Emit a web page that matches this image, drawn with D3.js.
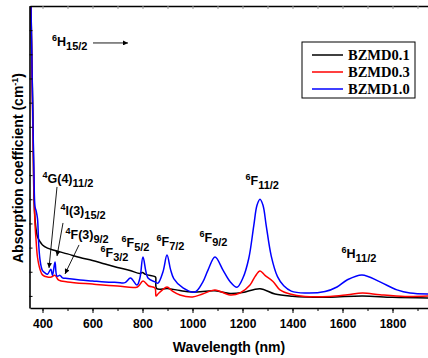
<!DOCTYPE html>
<html>
<head>
<meta charset="utf-8">
<script src="https://cdn.jsdelivr.net/npm/d3@7"></script>
<style>
  body { margin: 0; background: #fff; }
  svg { display: block; }
  .tickText { font-family: "Liberation Sans", Arial, sans-serif; font-weight: bold; font-size: 12px; }
</style>
</head>
<body>
<div id="chart"></div>
<script>
"use-strict";

// wavelength (nm) and absorption values
const blackWl  = [350, 354, 358, 362, 366, 370, 375, 380, 390, 400, 420, 450, 500, 550, 600, 650, 700, 750, 790, 800, 812, 850, 853, 857, 900, 950, 1000, 1090, 1150, 1200, 1270, 1330, 1400, 1450, 1550, 1680, 1800, 1950];
const blackAbs = [14.5, 12.0, 9.5, 7.3, 4.0, 3.2, 2.7, 2.45, 2.25, 2.11, 1.98, 1.88, 1.74, 1.59, 1.47, 1.32, 1.18, 1.05, 0.93, 0.97, 0.89, 0.8, 0.76, 0.3, 0.31, 0.22, 0.16, 0.21, 0.1, 0.14, 0.3, 0.08, -0.01, -0.04, -0.05, 0.0, -0.06, -0.09];

const redWl  = [350, 354, 358, 362, 366, 370, 375, 380, 390, 400, 420, 435, 450, 465, 500, 600, 700, 780, 802, 825, 850, 854, 862, 880, 898, 920, 950, 1000, 1040, 1090, 1150, 1190, 1230, 1250, 1270, 1290, 1322, 1350, 1390, 1450, 1550, 1620, 1680, 1750, 1850, 1950];
const redAbs = [14.5, 12.0, 9.0, 6.5, 4.3, 3.0, 2.2, 1.6, 1.1, 0.87, 0.78, 0.78, 0.85, 0.65, 0.58, 0.49, 0.41, 0.37, 0.62, 0.41, 0.33, 0.0, 0.08, 0.25, 0.37, 0.2, 0.04, -0.04, 0.08, 0.25, 0.04, 0.12, 0.45, 0.8, 1.03, 0.85, 0.6, 0.25, 0.08, -0.02, -0.02, 0.05, 0.12, 0.05, -0.02, 0.0];

const blueWl  = [350, 354, 358, 362, 366, 370, 375, 380, 385, 390, 395, 400, 410, 420, 433, 440, 450, 458, 470, 480, 500, 550, 600, 650, 700, 730, 752, 778, 790, 802, 822, 850, 862, 882, 898, 912, 925, 962, 1010, 1040, 1062, 1090, 1122, 1150, 1178, 1202, 1225, 1245, 1258, 1270, 1282, 1295, 1315, 1340, 1365, 1395, 1450, 1530, 1578, 1618, 1678, 1750, 1818, 1870, 1950];
const blueAbs = [14.5, 12.0, 9.5, 7.0, 5.0, 3.7, 3.5, 3.2, 2.1, 1.5, 1.2, 1.05, 0.95, 0.9, 1.1, 0.85, 1.4, 0.82, 0.85, 0.75, 0.72, 0.66, 0.62, 0.58, 0.56, 0.55, 0.74, 0.45, 0.75, 1.61, 0.74, 0.58, 0.53, 1.0, 1.69, 1.1, 0.72, 0.33, 0.16, 0.55, 1.07, 1.61, 1.07, 0.6, 0.36, 0.75, 1.55, 2.9, 3.75, 4.0, 3.75, 2.9, 1.65, 0.8, 0.42, 0.2, 0.12, 0.18, 0.37, 0.66, 0.87, 0.58, 0.25, 0.12, 0.08];

const seriesNames  = ["BZMD0.1", "BZMD0.3", "BZMD1.0"];
const seriesColors = ["#000000", "#ff0000", "#0000ff"];
const xTicks = [400, 600, 800, 1000, 1200, 1400, 1600, 1800];

const msm = { width: 428, height: 358, left: 30, right: 430, top: 6, bottom: 308 };

const svg = d3.select("#chart").append("svg")
    .attr("width", msm.width)
    .attr("height", msm.height);

const xScale = d3.scaleLinear().domain([350, 1950]).range([msm.left, msm.right]);
const yScale = d3.scaleLinear().domain([-0.5, 12]).range([msm.bottom, msm.top]);

// clip the curves to the plot frame
svg.append("clipPath").attr("id", "plotClip")
    .append("rect")
    .attr("x", msm.left).attr("y", msm.top)
    .attr("width", msm.right - msm.left).attr("height", msm.bottom - msm.top);

const series = [
    { wl: blackWl, abs: blackAbs },
    { wl: redWl, abs: redAbs },
    { wl: blueWl, abs: blueAbs }
];

const line = d3.line()
    .x(d => xScale(d[0]))
    .y(d => yScale(d[1]))
    .curve(d3.curveCatmullRom.alpha(0.5));

const curves = svg.append("g").attr("clip-path", "url(#plotClip)");
series.forEach((s, i) => {
    curves.append("path")
        .datum(s.wl.map((w, j) => [w, s.abs[j]]))
        .attr("d", line)
        .attr("fill", "none")
        .attr("stroke", seriesColors[i])
        .attr("stroke-width", 1.5);
});

// axes
const bottomMinor = svg.append("g")
    .attr("transform", "translate(0," + msm.bottom + ")")
    .call(d3.axisBottom(xScale).tickValues(d3.range(400, 1950, 100)).tickSize(3).tickFormat(""));
bottomMinor.select(".domain").remove();

const bottomAxis = svg.append("g")
    .attr("transform", "translate(0," + msm.bottom + ")")
    .call(d3.axisBottom(xScale).tickValues(xTicks).tickSize(5).tickPadding(6)
        .tickSizeOuter(0).tickFormat(d3.format("d")));
bottomAxis.selectAll("text").attr("class", "tickText").attr("fill", "#000");

const topAxis = svg.append("g")
    .attr("transform", "translate(0," + msm.top + ")")
    .call(d3.axisBottom(xScale).tickValues(d3.range(400, 1950, 100)).tickSize(3).tickFormat("").tickSizeOuter(0));
topAxis.selectAll(".tick line").attr("stroke", "#999");

const leftAxis = svg.append("g")
    .attr("transform", "translate(" + (msm.left - 0.5) + ",0)")
    .call(d3.axisRight(yScale).tickValues(d3.range(0, 13, 1)).tickSize(3).tickFormat("").tickSizeOuter(0));

[bottomAxis, topAxis, leftAxis].forEach(a => a.select(".domain").attr("stroke-width", 1.6));

// axis titles
svg.append("text")
    .attr("x", (msm.left + 428) / 2)
    .attr("y", 352)
    .attr("text-anchor", "middle")
    .style("font-family", "Liberation Sans, Arial, sans-serif")
    .style("font-weight", "bold")
    .style("font-size", "14px")
    .text("Wavelength (nm)");

const yTitle = svg.append("text")
    .attr("transform", "translate(23," + 168 + ") rotate(-90)")
    .attr("text-anchor", "middle")
    .style("font-family", "Liberation Sans, Arial, sans-serif")
    .style("font-weight", "bold")
    .style("font-size", "14px");
yTitle.append("tspan").text("Absorption coefficient (cm");
yTitle.append("tspan").attr("dy", -5).style("font-size", "9px").text("-1");
yTitle.append("tspan").attr("dy", 5).text(")");

// legend
const legend = svg.append("g");
legend.append("rect")
    .attr("x", 302).attr("y", 42)
    .attr("width", 113).attr("height", 56)
    .attr("fill", "#fff").attr("stroke", "#000").attr("stroke-width", 1);
seriesNames.forEach((name, i) => {
    const ly = 55 + i * 17;
    legend.append("line")
        .attr("x1", 312).attr("x2", 343)
        .attr("y1", ly).attr("y2", ly)
        .attr("stroke", seriesColors[i]).attr("stroke-width", 1.5);
    legend.append("text")
        .attr("x", 348).attr("y", ly + 5)
        .style("font-family", "Liberation Serif, Times New Roman, serif")
        .style("font-weight", "bold")
        .style("font-size", "14.5px")
        .text(name);
});

// level labels: superscript, main letters, subscript
function addLabel(wl, v, sup, main, sub) {
    const t = svg.append("text")
        .attr("x", xScale(wl)).attr("y", yScale(v))
        .style("font-family", "Liberation Sans, Arial, sans-serif")
        .style("font-weight", "bold")
        .style("font-size", "12.5px");
    t.append("tspan").attr("dy", -5).style("font-size", "9px").text(sup);
    t.append("tspan").attr("dy", 5).text(main);
    t.append("tspan").attr("dy", 4).style("font-size", "11px").text(sub);
}

svg.append("defs").append("marker")
    .attr("id", "arrowHead")
    .attr("viewBox", "0 0 10 10")
    .attr("refX", 10).attr("refY", 5)
    .attr("markerWidth", 8).attr("markerHeight", 5)
    .attr("markerUnits", "userSpaceOnUse")
    .attr("orient", "auto")
    .append("path").attr("d", "M0,0L10,5L0,10Z").attr("fill", "#000");

function addArrow(w1, v1, w2, v2) {
    svg.append("line")
        .attr("x1", xScale(w1)).attr("y1", yScale(v1))
        .attr("x2", xScale(w2)).attr("y2", yScale(v2))
        .attr("stroke", "#000").attr("stroke-width", 0.9)
        .attr("marker-end", "url(#arrowHead)");
}

addLabel(438, 10.34, "6", "H", "15/2");
addArrow(602, 10.47, 742, 10.47);
addLabel(400, 4.67, "4", "G(4)", "11/2");
addArrow(458, 4.51, 426, 1.16);
addLabel(472, 3.35, "4", "I(3)", "15/2");
addArrow(482, 3.02, 458, 1.65);
addLabel(492, 2.36, "4", "F(3)", "9/2");
addArrow(546, 2.11, 490, 0.91);
addLabel(632, 1.61, "6", "F", "3/2");
addLabel(716, 2.02, "6", "F", "5/2");
addLabel(856, 2.07, "6", "F", "7/2");
addLabel(1028, 2.23, "6", "F", "9/2");
addLabel(1212, 4.59, "6", "F", "11/2");
addLabel(1596, 1.57, "6", "H", "11/2");
</script>
</body>
</html>
